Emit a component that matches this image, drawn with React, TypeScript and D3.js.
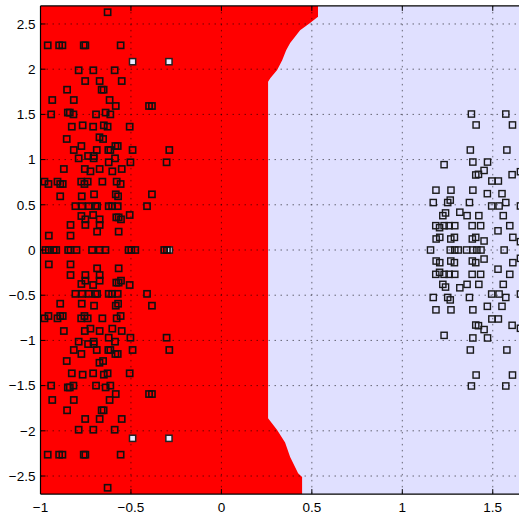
import React from "react";
import * as d3 from "d3";

// ---------- data ----------
const xTicks = [-1, -0.5, 0, 0.5, 1, 1.5];
const xTickLabels = ["\u22121", "\u22120.5", "0", "0.5", "1", "1.5"];
const yTicks = [-2.5, -2, -1.5, -1, -0.5, 0, 0.5, 1, 1.5, 2, 2.5];
const yTickLabels = ["\u22122.5", "\u22122", "\u22121.5", "\u22121", "\u22120.5", "0", "0.5", "1", "1.5", "2", "2.5"];

// decision boundary (class-1 region lies left of it), listed top to bottom
const boundaryY = [2.7, 2.58, 2.51, 2.43, 2.29, 2.21, 2.1, 1.99, 1.9, 1.86, -1.86, -1.99, -2.13, -2.29, -2.47, -2.51, -2.7];
const boundaryX = [0.534, 0.534, 0.49, 0.435, 0.38, 0.358, 0.336, 0.308, 0.27, 0.258, 0.258, 0.308, 0.352, 0.38, 0.424, 0.446, 0.446];

// class 1 samples (left cluster)
const classA: [number, number][] = [
  [-0.629, 2.63],
  [-0.96, 2.264], [-0.897, 2.264], [-0.879, 2.264], [-0.761, 2.264], [-0.752, 2.264], [-0.557, 2.264],
  [-0.789, 1.988], [-0.708, 1.988], [-0.59, 1.988],
  [-0.753, 1.869], [-0.673, 1.869], [-0.551, 1.869],
  [-0.853, 1.773], [-0.662, 1.773], [-0.651, 1.773],
  [-0.935, 1.659], [-0.816, 1.659], [-0.618, 1.659],
  [-0.584, 1.593], [-0.4, 1.593], [-0.384, 1.593],
  [-0.941, 1.5], [-0.849, 1.52], [-0.838, 1.52], [-0.818, 1.5], [-0.693, 1.5], [-0.64, 1.52], [-0.614, 1.5],
  [-0.827, 1.364], [-0.767, 1.379], [-0.709, 1.364], [-0.65, 1.379], [-0.629, 1.364], [-0.507, 1.364],
  [-0.855, 1.228], [-0.674, 1.247], [-0.654, 1.228],
  [-0.774, 1.15], [-0.586, 1.15], [-0.573, 1.15],
  [-0.816, 1.106], [-0.689, 1.106], [-0.625, 1.106], [-0.614, 1.106], [-0.491, 1.106], [-0.288, 1.106],
  [-0.737, 1.04], [-0.706, 1.04], [-0.789, 1.014], [-0.706, 1.014], [-0.588, 1.014],
  [-0.623, 0.97], [-0.503, 0.97], [-0.303, 0.97],
  [-0.871, 0.896], [-0.755, 0.896], [-0.724, 0.87], [-0.673, 0.896], [-0.603, 0.87], [-0.551, 0.896],
  [-0.978, 0.756], [-0.956, 0.73], [-0.906, 0.756], [-0.891, 0.73], [-0.877, 0.73], [-0.775, 0.756], [-0.757, 0.73], [-0.739, 0.756], [-0.658, 0.756], [-0.579, 0.756], [-0.557, 0.73],
  [-0.891, 0.594], [-0.772, 0.594], [-0.704, 0.616], [-0.584, 0.616], [-0.571, 0.594], [-0.384, 0.616],
  [-0.807, 0.485], [-0.77, 0.485], [-0.733, 0.485], [-0.696, 0.485], [-0.687, 0.485], [-0.623, 0.485], [-0.604, 0.485], [-0.573, 0.485], [-0.411, 0.485],
  [-0.774, 0.376], [-0.752, 0.339], [-0.709, 0.387], [-0.673, 0.339], [-0.581, 0.361], [-0.568, 0.361], [-0.555, 0.339], [-0.507, 0.387],
  [-0.834, 0.277], [-0.752, 0.277], [-0.673, 0.277],
  [-0.687, 0.203], [-0.568, 0.203],
  [-0.954, 0.159], [-0.834, 0.159],
  [-0.972, 0], [-0.954, 0], [-0.927, 0], [-0.913, 0], [-0.847, 0], [-0.834, 0], [-0.801, 0], [-0.715, 0], [-0.673, 0], [-0.641, 0], [-0.513, 0], [-0.498, 0], [-0.476, 0], [-0.316, 0], [-0.301, 0],
  [-0.954, -0.159], [-0.834, -0.159],
  [-0.687, -0.203], [-0.568, -0.203],
  [-0.834, -0.277], [-0.752, -0.277], [-0.673, -0.277],
  [-0.774, -0.376], [-0.752, -0.339], [-0.709, -0.387], [-0.673, -0.339], [-0.581, -0.361], [-0.568, -0.361], [-0.555, -0.339], [-0.507, -0.387],
  [-0.807, -0.485], [-0.77, -0.485], [-0.733, -0.485], [-0.696, -0.485], [-0.687, -0.485], [-0.623, -0.485], [-0.604, -0.485], [-0.573, -0.485], [-0.411, -0.485],
  [-0.891, -0.594], [-0.772, -0.594], [-0.704, -0.616], [-0.584, -0.616], [-0.571, -0.594], [-0.384, -0.616],
  [-0.978, -0.756], [-0.956, -0.73], [-0.906, -0.756], [-0.891, -0.73], [-0.877, -0.73], [-0.775, -0.756], [-0.757, -0.73], [-0.739, -0.756], [-0.658, -0.756], [-0.579, -0.756], [-0.557, -0.73],
  [-0.871, -0.896], [-0.755, -0.896], [-0.724, -0.87], [-0.673, -0.896], [-0.603, -0.87], [-0.551, -0.896],
  [-0.623, -0.97], [-0.503, -0.97], [-0.303, -0.97],
  [-0.737, -1.04], [-0.706, -1.04], [-0.789, -1.014], [-0.706, -1.014], [-0.588, -1.014],
  [-0.816, -1.106], [-0.689, -1.106], [-0.625, -1.106], [-0.614, -1.106], [-0.491, -1.106], [-0.288, -1.106],
  [-0.774, -1.15], [-0.586, -1.15], [-0.573, -1.15],
  [-0.855, -1.228], [-0.674, -1.247], [-0.654, -1.228],
  [-0.827, -1.364], [-0.767, -1.379], [-0.709, -1.364], [-0.65, -1.379], [-0.629, -1.364], [-0.507, -1.364],
  [-0.941, -1.5], [-0.849, -1.52], [-0.838, -1.52], [-0.818, -1.5], [-0.693, -1.5], [-0.64, -1.52], [-0.614, -1.5],
  [-0.584, -1.593], [-0.4, -1.593], [-0.384, -1.593],
  [-0.935, -1.659], [-0.816, -1.659], [-0.618, -1.659],
  [-0.853, -1.773], [-0.662, -1.773], [-0.651, -1.773],
  [-0.753, -1.869], [-0.673, -1.869], [-0.551, -1.869],
  [-0.789, -1.988], [-0.708, -1.988], [-0.59, -1.988],
  [-0.96, -2.264], [-0.897, -2.264], [-0.879, -2.264], [-0.761, -2.264], [-0.752, -2.264], [-0.557, -2.264],
  [-0.629, -2.63],
];

// filled (highlighted) samples
const classAFilled: [number, number][] = [
  [-0.491, 2.083], [-0.29, 2.083], [-0.288, 0], [-0.491, -2.083], [-0.29, -2.083],
];

// class 2 samples (right cluster)
const classB: [number, number][] = [
  [1.382, 1.504], [1.572, 1.504],
  [1.408, 1.383], [1.609, 1.383],
  [1.376, 1.106], [1.578, 1.106],
  [1.231, 0.944], [1.39, 0.973], [1.471, 0.973],
  [1.406, 0.83], [1.421, 0.837], [1.452, 0.88], [1.607, 0.833], [1.653, 0.866],
  [1.495, 0.763], [1.531, 0.763],
  [1.186, 0.662], [1.269, 0.662], [1.39, 0.662], [1.47, 0.623], [1.551, 0.623],
  [1.171, 0.525], [1.251, 0.525], [1.265, 0.552], [1.371, 0.525], [1.494, 0.487], [1.535, 0.487], [1.572, 0.525], [1.653, 0.487],
  [1.224, 0.38], [1.239, 0.41], [1.318, 0.418], [1.358, 0.38], [1.423, 0.38], [1.558, 0.38],
  [1.185, 0.269], [1.206, 0.247], [1.231, 0.269], [1.259, 0.269], [1.29, 0.269], [1.386, 0.269], [1.433, 0.269], [1.529, 0.212], [1.594, 0.269],
  [1.187, 0.122], [1.207, 0.14], [1.268, 0.122], [1.288, 0.14], [1.387, 0.122], [1.406, 0.14], [1.452, 0.1], [1.611, 0.14], [1.653, 0.092],
  [1.156, 0], [1.265, 0], [1.29, 0], [1.309, 0], [1.355, 0], [1.39, 0], [1.412, 0], [1.435, 0], [1.563, 0],
  [1.187, -0.122], [1.207, -0.14], [1.268, -0.122], [1.288, -0.14], [1.387, -0.122], [1.406, -0.14], [1.452, -0.1], [1.611, -0.14], [1.653, -0.092],
  [1.185, -0.269], [1.206, -0.247], [1.231, -0.269], [1.259, -0.269], [1.29, -0.269], [1.386, -0.269], [1.433, -0.269], [1.529, -0.212], [1.594, -0.269],
  [1.224, -0.38], [1.239, -0.41], [1.318, -0.418], [1.358, -0.38], [1.423, -0.38], [1.558, -0.38],
  [1.171, -0.525], [1.251, -0.525], [1.265, -0.552], [1.371, -0.525], [1.494, -0.487], [1.535, -0.487], [1.572, -0.525], [1.653, -0.487],
  [1.186, -0.662], [1.269, -0.662], [1.39, -0.662], [1.47, -0.623], [1.551, -0.623],
  [1.495, -0.763], [1.531, -0.763],
  [1.406, -0.83], [1.421, -0.837], [1.452, -0.88], [1.607, -0.833], [1.653, -0.866],
  [1.231, -0.944], [1.39, -0.973], [1.471, -0.973],
  [1.376, -1.106], [1.578, -1.106],
  [1.408, -1.383], [1.609, -1.383],
  [1.382, -1.504], [1.572, -1.504],
];

// ---------- chart ----------
const W = 519;
const H = 514;
const xDomain: [number, number] = [-1, 1.65];
const yDomain: [number, number] = [-2.7, 2.7];

export default function App() {
  const x = d3.scaleLinear().domain(xDomain).range([40.5, 519.9]);
  const y = d3.scaleLinear().domain(yDomain).range([494.1, 5.9]);

  const left = x(xDomain[0]);
  const right = x(xDomain[1]);
  const top = y(yDomain[1]);
  const bottom = y(yDomain[0]);

  const regionPts: [number, number][] = [
    [xDomain[0], yDomain[1]],
    ...boundaryY.map((yy, i) => [boundaryX[i], yy] as [number, number]),
    [xDomain[0], yDomain[0]],
  ];
  const line = d3.line<[number, number]>().x((d) => x(d[0])).y((d) => y(d[1]));
  const regionPath = line(regionPts) + "Z";

  const S = 6.2; // marker side
  const font = "'Liberation Sans', Arial, Helvetica, sans-serif";

  return (
    <svg
      width={W}
      height={H}
      style={{ position: "absolute", left: 0, top: 0, background: "#fff" }}
    >
      <defs>
        <clipPath id="plotClip">
          <rect x={left} y={top} width={right - left} height={bottom - top} />
        </clipPath>
      </defs>
      <g clipPath="url(#plotClip)">
        <rect x={left} y={top} width={right - left} height={bottom - top} fill="#e0e0ff" />
        <path d={regionPath} fill="#ff0000" />
        {/* grid */}
        {xTicks.map((t) => (
          <line
            key={"gx" + t}
            x1={x(t)}
            x2={x(t)}
            y1={top}
            y2={bottom}
            stroke="#000"
            strokeOpacity={0.55}
            strokeWidth={1}
            strokeDasharray="1.5 4.5"
          />
        ))}
        {yTicks.map((t) => (
          <line
            key={"gy" + t}
            x1={left}
            x2={right}
            y1={y(t)}
            y2={y(t)}
            stroke="#000"
            strokeOpacity={0.55}
            strokeWidth={1}
            strokeDasharray="1.5 4.5"
          />
        ))}
        {/* samples */}
        {classAFilled.map((d, i) => (
          <rect
            key={"f" + i}
            x={x(d[0]) - S / 2}
            y={y(d[1]) - S / 2}
            width={S}
            height={S}
            fill="#eaeaff"
            stroke="#222"
            strokeWidth={1.5}
          />
        ))}
        {classA.map((d, i) => (
          <rect
            key={"a" + i}
            x={x(d[0]) - S / 2}
            y={y(d[1]) - S / 2}
            width={S}
            height={S}
            fill="none"
            stroke="#111"
            strokeWidth={1.6}
          />
        ))}
        {classB.map((d, i) => (
          <rect
            key={"b" + i}
            x={x(d[0]) - S / 2}
            y={y(d[1]) - S / 2}
            width={S}
            height={S}
            fill="none"
            stroke="#1a1a1a"
            strokeWidth={1.4}
          />
        ))}
      </g>
      {/* ticks */}
      {xTicks.map((t) => (
        <g key={"tx" + t}>
          <line x1={x(t)} x2={x(t)} y1={bottom} y2={bottom - 5} stroke="#000" />
          <line x1={x(t)} x2={x(t)} y1={top} y2={top + 5} stroke="#000" />
        </g>
      ))}
      {yTicks.map((t) => (
        <line key={"ty" + t} x1={left} x2={left + 5} y1={y(t)} y2={y(t)} stroke="#000" />
      ))}
      {/* spines */}
      <line x1={left} x2={left} y1={top} y2={bottom} stroke="#000" strokeWidth={1.2} />
      <line x1={left} x2={right} y1={bottom} y2={bottom} stroke="#000" strokeWidth={1.2} />
      <line x1={left} x2={right} y1={top} y2={top} stroke="#000" strokeWidth={1.2} />
      {/* labels */}
      {xTicks.map((t, i) => (
        <text
          key={"lx" + t}
          x={x(t)}
          y={512}
          textAnchor="middle"
          fontFamily={font}
          fontSize={13.5}
          fill="#000"
        >
          {xTickLabels[i]}
        </text>
      ))}
      {yTicks.map((t, i) => (
        <text
          key={"ly" + t}
          x={35.5}
          y={y(t)}
          dy="0.35em"
          textAnchor="end"
          fontFamily={font}
          fontSize={13.5}
          fill="#000"
        >
          {yTickLabels[i]}
        </text>
      ))}
    </svg>
  );
}
